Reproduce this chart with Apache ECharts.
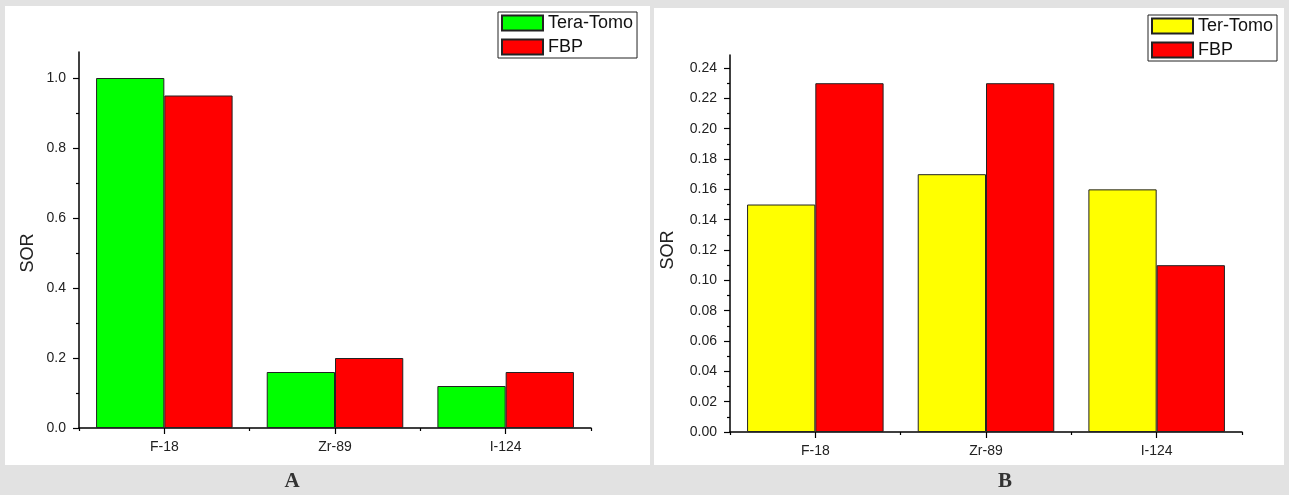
<!DOCTYPE html>
<html>
<head>
<meta charset="utf-8">
<script src="https://cdn.jsdelivr.net/npm/echarts@6/dist/echarts.min.js"></script>
<style>
  html, body { margin: 0; padding: 0; background: #e2e2e2; }
  .panel { position: absolute; background: #fff; }
  #chart { position: absolute; left: 0; top: 0; width: 1289px; height: 495px; }
</style>
</head>
<body>
<div class="panel" style="left:5px;top:6px;width:645px;height:459px"></div>
<div class="panel" style="left:654px;top:8px;width:630px;height:457px"></div>
<div id="chart"></div>
<script>
// data
const categories = ['F-18', 'Zr-89', 'I-124'];
const teraTomoA = [1.0, 0.16, 0.12];
const fbpA = [0.95, 0.2, 0.16];
const terTomoB = [0.15, 0.17, 0.16];
const fbpB = [0.23, 0.23, 0.11];

const majorTicksA = [0, 0.2, 0.4, 0.6, 0.8, 1.0];
const minorTicksA = [0.1, 0.3, 0.5, 0.7, 0.9];
const majorTicksB = [0, 0.02, 0.04, 0.06, 0.08, 0.1, 0.12, 0.14, 0.16, 0.18, 0.2, 0.22, 0.24];
const minorTicksB = [0.01, 0.03, 0.05, 0.07, 0.09, 0.11, 0.13, 0.15, 0.17, 0.19, 0.21, 0.23];

const font = 'Arial, "Liberation Sans", sans-serif';
const axisLine = { show: true, lineStyle: { color: '#000', width: 1.5 } };

function yAxes(gridIndex, max, major, minor, digits) {
  return [
    {
      type: 'value', gridIndex, min: 0, max,
      axisLine, splitLine: { show: false },
      axisTick: { show: true, length: 6, customValues: major, lineStyle: { color: '#000', width: 1.2 } },
      axisLabel: { customValues: major, margin: 13, fontSize: 14, color: '#222', fontFamily: font,
        formatter: v => v.toFixed(digits) }
    },
    {
      type: 'value', gridIndex, min: 0, max, position: 'left',
      axisLine: { show: false }, splitLine: { show: false }, axisLabel: { show: false },
      axisTick: { show: true, length: 3, customValues: minor, lineStyle: { color: '#000', width: 1.2 } }
    }
  ];
}

function xAxes(gridIndex) {
  return [
    {
      type: 'category', gridIndex, data: categories,
      axisLine,
      axisTick: { show: true, alignWithLabel: true, length: 6, lineStyle: { color: '#000', width: 1.2 } },
      axisLabel: { margin: 12, fontSize: 14, color: '#222', fontFamily: font }
    },
    {
      type: 'category', gridIndex, data: categories, position: 'bottom',
      axisLine: { show: false }, axisLabel: { show: false },
      axisTick: { show: true, length: 3, lineStyle: { color: '#000', width: 1.2 } }
    }
  ];
}

function bar(name, data, color, xi, yi) {
  return {
    type: 'bar', name, data, xAxisIndex: xi, yAxisIndex: yi,
    barWidth: '40%', barGap: '0%',
    itemStyle: { color, borderColor: '#222', borderWidth: 1 },
    emphasis: { disabled: true }
  };
}

const legendBase = {
  orient: 'vertical', itemWidth: 41, itemHeight: 15, itemGap: 6,
  icon: 'rect', backgroundColor: '#fff', borderColor: '#222', borderWidth: 1,
  padding: [2, 4, 2, 3],
  textStyle: { fontSize: 18, lineHeight: 16, color: '#111', fontFamily: font }
};

const chart = echarts.init(document.getElementById('chart'));
chart.setOption({
  animation: false,
  grid: [
    { left: 79, top: 52, width: 512, height: 376 },
    { left: 730, top: 55, width: 512, height: 377 }
  ],
  xAxis: [...xAxes(0), ...xAxes(1)],
  yAxis: [
    ...yAxes(0, 1.0743, majorTicksA, minorTicksA, 1),
    ...yAxes(1, 0.2486, majorTicksB, minorTicksB, 2)
  ],
  legend: [
    Object.assign({}, legendBase, { left: 498, top: 12, data: ['Tera-Tomo', 'FBP (A)'],
      formatter: n => n.replace(' (A)', '') }),
    Object.assign({}, legendBase, { left: 1148, top: 15, data: ['Ter-Tomo', 'FBP (B)'],
      formatter: n => n.replace(' (B)', '') })
  ],
  series: [
    bar('Tera-Tomo', teraTomoA, '#00ff00', 0, 0),
    bar('FBP (A)', fbpA, '#ff0000', 0, 0),
    bar('Ter-Tomo', terTomoB, '#ffff00', 2, 2),
    bar('FBP (B)', fbpB, '#ff0000', 2, 2)
  ],
  graphic: [
    { type: 'text', x: 28, y: 253, rotation: Math.PI / 2,
      style: { text: 'SOR', font: '18px ' + font, fill: '#222', align: 'center', verticalAlign: 'middle' } },
    { type: 'text', x: 668, y: 250, rotation: Math.PI / 2,
      style: { text: 'SOR', font: '18px ' + font, fill: '#222', align: 'center', verticalAlign: 'middle' } },
    { type: 'text', x: 292, y: 482,
      style: { text: 'A', font: 'bold 21px "Liberation Serif", "DejaVu Serif", serif', fill: '#333', align: 'center', verticalAlign: 'middle' } },
    { type: 'text', x: 1005, y: 482,
      style: { text: 'B', font: 'bold 21px "Liberation Serif", "DejaVu Serif", serif', fill: '#333', align: 'center', verticalAlign: 'middle' } }
  ]
});
</script>
</body>
</html>
